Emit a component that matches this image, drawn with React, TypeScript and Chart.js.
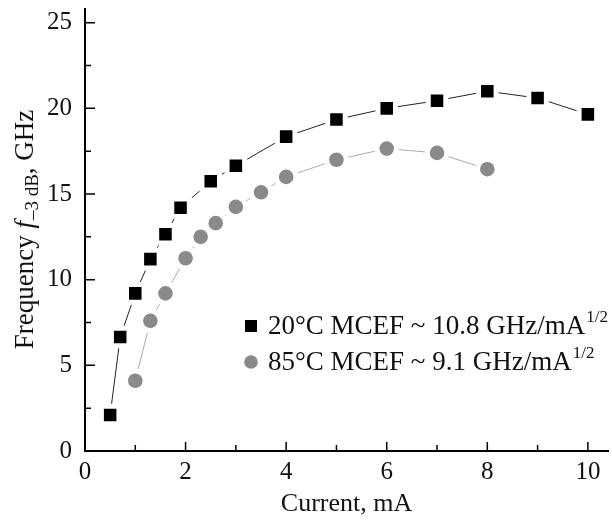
import React, { useEffect, useRef } from "react";
import { Chart, registerables } from "chart.js";

Chart.register(...registerables);

const current20 = [0.5, 0.7, 1.0, 1.3, 1.6, 1.9, 2.5, 3.0, 4.0, 5.0, 6.0, 7.0, 8.0, 9.0, 10.0];
const freq20 = [2.1, 6.65, 9.2, 11.2, 12.65, 14.2, 15.75, 16.65, 18.35, 19.35, 20.0, 20.45, 21.0, 20.6, 19.65];
const current85 = [1.0, 1.3, 1.6, 2.0, 2.3, 2.6, 3.0, 3.5, 4.0, 5.0, 6.0, 7.0, 8.0];
const freq85 = [4.1, 7.6, 9.2, 11.25, 12.5, 13.3, 14.25, 15.1, 16.0, 17.0, 17.65, 17.4, 16.45];

const xTicks = [0, 2, 4, 6, 8, 10];
const xMinorTicks = [1, 3, 5, 7, 9];
const yTicks = [0, 5, 10, 15, 20, 25];
const yMinorTicks = [2.5, 7.5, 12.5, 17.5, 22.5];

const legendLabels = ["20°C MCEF ~ 10.8 GHz/mA", "85°C MCEF ~ 9.1 GHz/mA"];
const legendSup = "1/2";
const xTitle = "Current, mA";

const SERIF = '"Liberation Serif", "Times New Roman", serif';

const customPlugin = {
  id: "customDraw",
  afterDraw(chart: any) {
    const ctx = chart.ctx;
    const xs = chart.scales.x;
    const ys = chart.scales.y;
    const area = chart.chartArea;
    ctx.save();
    // inward ticks
    ctx.strokeStyle = "#000";
    ctx.lineWidth = 1.5;
    ctx.beginPath();
    const tick = (vals: number[], len: number, horiz: boolean) => {
      vals.forEach((v) => {
        if (horiz) {
          const px = xs.getPixelForValue(v);
          ctx.moveTo(px, area.bottom);
          ctx.lineTo(px, area.bottom - len);
        } else {
          const py = ys.getPixelForValue(v);
          ctx.moveTo(area.left, py);
          ctx.lineTo(area.left + len, py);
        }
      });
    };
    tick(xTicks, 9, true);
    tick(xMinorTicks, 6, true);
    tick(yTicks, 10, false);
    tick(yMinorTicks, 6, false);
    ctx.stroke();

    // Y title
    ctx.fillStyle = "#111";
    ctx.textBaseline = "alphabetic";
    ctx.textAlign = "left";
    const segs = [
      { t: "Frequency ", f: `27px ${SERIF}`, dy: 0 },
      { t: "f", f: `italic 27px ${SERIF}`, dy: 0 },
      { t: "–3 dB", f: `19px ${SERIF}`, dy: 5 },
      { t: ", GHz", f: `27px ${SERIF}`, dy: 0 },
    ];
    let total = 0;
    segs.forEach((s) => {
      ctx.font = s.f;
      total += ctx.measureText(s.t).width;
    });
    const cy = (area.top + area.bottom) / 2;
    ctx.translate(33, cy);
    ctx.rotate(-Math.PI / 2);
    let cx = -total / 2;
    segs.forEach((s) => {
      ctx.font = s.f;
      ctx.fillText(s.t, cx, s.dy);
      cx += ctx.measureText(s.t).width + (s.t === "f" ? 1 : 0);
    });
    ctx.setTransform(1, 0, 0, 1, 0, 0);

    // Legend
    const lx = 251;
    const rows = [326, 362];
    ctx.fillStyle = "#000";
    ctx.fillRect(lx - 6, rows[0] - 6, 12, 12);
    ctx.fillStyle = "#8a8a8a";
    ctx.beginPath();
    ctx.arc(lx, rows[1], 6.8, 0, Math.PI * 2);
    ctx.fill();
    ctx.fillStyle = "#111";
    legendLabels.forEach((label, i) => {
      const by = rows[i] + 8;
      ctx.font = `27px ${SERIF}`;
      ctx.fillText(label, 268, by);
      const w = ctx.measureText(label).width;
      ctx.font = `17px ${SERIF}`;
      ctx.fillText(legendSup, 268 + w + 1, by - 12);
    });
    ctx.restore();
  },
};

export default function App() {
  const ref = useRef<HTMLCanvasElement | null>(null);
  useEffect(() => {
    if (!ref.current) return;
    const tickFont = { family: SERIF, size: 25 };
    const chart = new Chart(ref.current, {
      type: "line",
      data: {
        datasets: [
          {
            label: legendLabels[0],
            data: current20.map((x, i) => ({ x, y: freq20[i] })),
            borderColor: "#222",
            borderWidth: 1,
            pointStyle: "rect",
            pointRadius: 12.4,
            pointBackgroundColor: "#000",
            pointBorderColor: "#fff",
            pointBorderWidth: 5,
            tension: 0,
          },
          {
            label: legendLabels[1],
            data: current85.map((x, i) => ({ x, y: freq85[i] })),
            borderColor: "#aaa",
            borderWidth: 1,
            pointStyle: "circle",
            pointRadius: 9.8,
            pointBackgroundColor: "#8a8a8a",
            pointBorderColor: "#fff",
            pointBorderWidth: 5,
            tension: 0,
          },
        ],
      },
      options: {
        animation: false,
        responsive: false,
        devicePixelRatio: 1,
        layout: { autoPadding: false, padding: { top: 9, right: 4, left: 0, bottom: 0 } },
        plugins: { legend: { display: false }, tooltip: { enabled: false } },
        scales: {
          x: {
            type: "linear",
            min: 0,
            max: 10.4,
            grid: { display: false, drawTicks: false },
            border: { display: true, color: "#000", width: 2 },
            ticks: { color: "#111", font: tickFont, padding: 6, maxRotation: 0 },
            afterBuildTicks: (s: any) => {
              s.ticks = xTicks.map((v) => ({ value: v }));
            },
            afterFit: (s: any) => {
              s.height = 69;
              s.paddingLeft = 0;
              s.paddingRight = 0;
            },
            title: {
              display: true,
              text: xTitle,
              color: "#111",
              font: { family: SERIF, size: 26 },
              padding: { top: 0, bottom: 0 },
            },
          },
          y: {
            type: "linear",
            min: 0,
            max: 25.8,
            grid: { display: false, drawTicks: false },
            border: { display: true, color: "#000", width: 2 },
            ticks: { color: "#111", font: tickFont, padding: 13 },
            afterBuildTicks: (s: any) => {
              s.ticks = yTicks.map((v) => ({ value: v }));
            },
            afterFit: (s: any) => {
              s.width = 85;
              s.paddingTop = 0;
              s.paddingBottom = 0;
            },
          },
        },
      },
      plugins: [customPlugin],
    } as any);
    return () => chart.destroy();
  }, []);
  return (
    <div style={{ position: "absolute", left: 0, top: 0, width: 612, height: 520, background: "#fff" }}>
      <canvas ref={ref} width={612} height={520} style={{ display: "block", width: 612, height: 520 }} />
    </div>
  );
}
